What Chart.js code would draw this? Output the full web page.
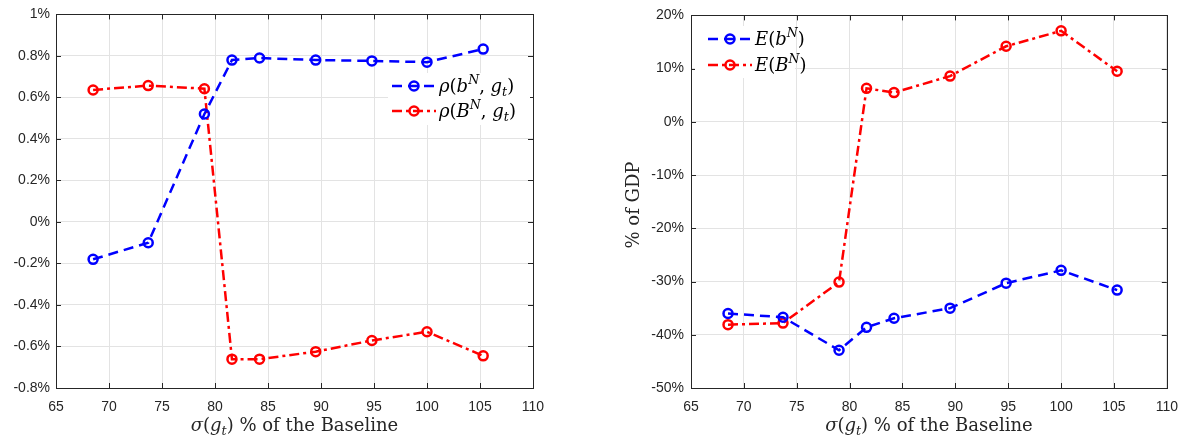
<!DOCTYPE html>
<html>
<head>
<meta charset="utf-8">
<script src="https://cdn.jsdelivr.net/npm/chart.js@4.4.1/dist/chart.umd.min.js"></script>
<style>
  html, body { margin: 0; padding: 0; background: #fff; }
  #wrap { position: relative; width: 1189px; height: 441px; overflow: hidden; }
  canvas { position: absolute; top: 0; }
  #corr { left: 0; }
  #expo { left: 590px; }
</style>
</head>
<body>
<div id="wrap">
  <canvas id="corr" width="590" height="441"></canvas>
  <canvas id="expo" width="599" height="441"></canvas>
</div>
<script>
// sigma(g_t) as % of the baseline
const sigmaPct = [68.5, 73.7, 79.0, 81.6, 84.2, 89.5, 94.8, 100.0, 105.3]

// left panel: correlations (in %)
const rhoSmallB = [-0.18, -0.10, 0.52, 0.78, 0.79, 0.78, 0.776, 0.77, 0.833]
const rhoBigB = [0.636, 0.657, 0.642, -0.661, -0.661, -0.625, -0.571, -0.529, -0.645]

// right panel: expectations (% of GDP)
const eSmallB = [-36.0, -36.7, -42.9, -38.6, -36.9, -35.0, -30.3, -27.9, -31.6]
const eBigB = [-38.1, -37.8, -30.1, 6.3, 5.5, 8.6, 14.2, 17.1, 9.5]

const xRange = [65, 110, 5]
const rhoRange = [-0.8, 1, 0.2]
const eRange = [-50, 20, 10]

const BLUE = '#0000ff'
const RED = '#ff0000'
const INK = '#262626'
const TICK_FONT = { family: '"Liberation Sans", Arial, sans-serif', size: 14 }
const SERIF = '"DejaVu Serif", "Liberation Serif", serif'

const pairs = (ys) => ys.map((y, i) => ({ x: sigmaPct[i], y }))

// draws text made of roman / italic / sub / sup pieces
const rich = (ctx, segs, x, y, size, align) => {
  const fontOf = (k) => {
    const s = (k === 'sub' || k === 'sup') ? size * 0.7 : size
    return `${k === 'r' ? '' : 'italic '}${s}px ${SERIF}`
  }
  let total = 0
  const widths = segs.map(([t, k]) => {
    ctx.font = fontOf(k)
    const w = ctx.measureText(t).width
    total += w
    return w
  })
  let cx = align === 'center' ? x - total / 2 : x
  ctx.textBaseline = 'alphabetic'
  ctx.textAlign = 'left'
  segs.forEach(([t, k], i) => {
    ctx.font = fontOf(k)
    let dy = 0
    if (k === 'sub') dy = size * 0.22
    if (k === 'sup') dy = -size * 0.42
    ctx.fillText(t, cx, y + dy)
    cx += widths[i]
  })
}

const xTitleSegs = [['σ', 'i'], ['(', 'r'], ['g', 'i'], ['t', 'sub'], [') % of the Baseline', 'r']]

// box around the axes with inward ticks, MATLAB style
const framePlugin = {
  id: 'frame',
  beforeDatasetsDraw: (chart) => {
    const { ctx, chartArea: a, scales } = chart
    ctx.save()
    ctx.strokeStyle = INK
    ctx.lineWidth = 1
    ctx.strokeRect(Math.round(a.left) + 0.5, Math.round(a.top) + 0.5, Math.round(a.right - a.left), Math.round(a.bottom - a.top))
    ctx.beginPath()
    scales.x.ticks.forEach(t => {
      const px = Math.round(scales.x.getPixelForValue(t.value)) + 0.5
      ctx.moveTo(px, a.bottom); ctx.lineTo(px, a.bottom - 5)
      ctx.moveTo(px, a.top); ctx.lineTo(px, a.top + 5)
    })
    scales.y.ticks.forEach(t => {
      const py = Math.round(scales.y.getPixelForValue(t.value)) + 0.5
      ctx.moveTo(a.left, py); ctx.lineTo(a.left + 5, py)
      ctx.moveTo(a.right, py); ctx.lineTo(a.right - 5, py)
    })
    ctx.stroke()
    ctx.restore()
  },
  afterDraw: (chart) => {
    const { ctx, chartArea: a } = chart
    const opts = chart.options.plugins.frame
    ctx.save()
    ctx.fillStyle = INK
    rich(ctx, xTitleSegs, (a.left + a.right) / 2, 431, 18, 'center')
    if (opts.yTitle) {
      ctx.translate(opts.yTitle.x, opts.yTitle.y)
      ctx.rotate(-Math.PI / 2)
      rich(ctx, opts.yTitle.segs, 0, 6, 18, 'center')
    }
    ctx.restore()

    // legend inside the axes
    const lg = opts.legend
    ctx.save()
    ctx.fillStyle = '#fff'
    ctx.fillRect(lg.box[0], lg.box[1], lg.box[2], lg.box[3])
    lg.items.forEach((it, i) => {
      const ds = chart.data.datasets[i]
      ctx.strokeStyle = ds.borderColor
      ctx.lineWidth = ds.borderWidth
      ctx.setLineDash(ds.borderDash)
      ctx.beginPath()
      ctx.moveTo(lg.x1, it.y); ctx.lineTo(lg.x2, it.y)
      ctx.stroke()
      ctx.setLineDash([])
      ctx.lineWidth = ds.pointBorderWidth
      ctx.beginPath()
      ctx.arc((lg.x1 + lg.x2) / 2, it.y, ds.pointRadius, 0, Math.PI * 2)
      ctx.stroke()
      ctx.fillStyle = '#000'
      rich(ctx, it.segs, lg.x2 + 3, it.y + 6, 18, 'left')
    })
    ctx.restore()
  }
}

const lineSet = (label, ys, color, dash) => ({
  label,
  data: pairs(ys),
  borderColor: color,
  borderWidth: 2.5,
  borderDash: dash,
  pointRadius: 4.5,
  pointBorderWidth: 2.5,
  pointBorderColor: color,
  pointBackgroundColor: 'rgba(0,0,0,0)',
  pointHoverRadius: 4.5,
  tension: 0
})

const fmtPct = (v) => `${parseFloat(v.toFixed(1))}%`

const makeChart = (id, datasets, yRange, yWidth, rightPad, yPad, frameOpts) => new Chart(document.getElementById(id), {
  type: 'line',
  data: { datasets },
  plugins: [framePlugin],
  options: {
    responsive: false,
    animation: false,
    layout: { padding: { left: 0, right: rightPad, top: 12, bottom: 0 } },
    plugins: {
      legend: { display: false },
      tooltip: { enabled: false },
      frame: frameOpts
    },
    scales: {
      x: {
        type: 'linear',
        min: xRange[0],
        max: xRange[1],
        afterFit: (s) => { s.height = 53 },
        ticks: { stepSize: xRange[2], color: INK, font: TICK_FONT, padding: 11, maxRotation: 0 },
        grid: { color: '#e3e3e3', drawTicks: false },
        border: { display: false }
      },
      y: {
        min: yRange[0],
        max: yRange[1],
        afterFit: (s) => { s.width = yWidth },
        ticks: { stepSize: yRange[2], color: INK, font: TICK_FONT, padding: yPad, callback: fmtPct },
        grid: { color: '#e3e3e3', drawTicks: false },
        border: { display: false }
      }
    }
  }
})

makeChart('corr', [
  lineSet('rho(b^N, g_t)', rhoSmallB, BLUE, [10, 6]),
  lineSet('rho(B^N, g_t)', rhoBigB, RED, [10, 4, 3, 4])
], rhoRange, 56, 57, 6, {
  legend: {
    box: [388, 73, 142, 52],
    x1: 392, x2: 436,
    items: [
      { y: 86, segs: [['ρ', 'i'], ['(', 'r'], ['b', 'i'], ['N', 'sup'], [', ', 'r'], ['g', 'i'], ['t', 'sub'], [')', 'r']] },
      { y: 111, segs: [['ρ', 'i'], ['(', 'r'], ['B', 'i'], ['N', 'sup'], [', ', 'r'], ['g', 'i'], ['t', 'sub'], [')', 'r']] }
    ]
  }
})

makeChart('expo', [
  lineSet('E(b^N)', eSmallB, BLUE, [10, 6]),
  lineSet('E(B^N)', eBigB, RED, [10, 4, 3, 4])
], eRange, 101, 20, 7, {
  yTitle: { x: 43, y: 205, segs: [['% of GDP', 'r']] },
  legend: {
    box: [105, 26, 100, 52],
    x1: 118, x2: 162,
    items: [
      { y: 39, segs: [['E', 'i'], ['(', 'r'], ['b', 'i'], ['N', 'sup'], [')', 'r']] },
      { y: 65, segs: [['E', 'i'], ['(', 'r'], ['B', 'i'], ['N', 'sup'], [')', 'r']] }
    ]
  }
})
</script>
</body>
</html>
